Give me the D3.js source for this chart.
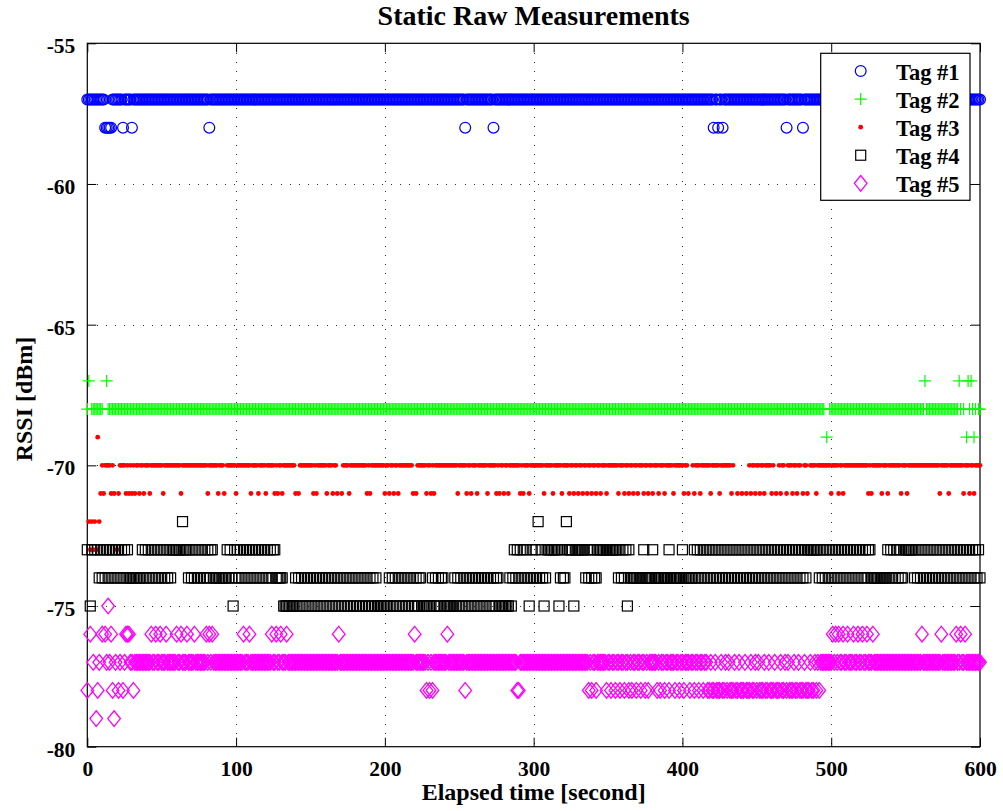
<!DOCTYPE html>
<html>
<head>
<meta charset="utf-8">
<script src="https://cdn.jsdelivr.net/npm/d3@7"></script>
<style>
  body { margin: 0; background: #fff; }
  svg { display: block; }
  text { font-family: "Liberation Serif", "Times New Roman", serif; font-weight: bold; fill: #000; }
</style>
</head>
<body>
<svg id="chart" width="1003" height="811"></svg>
<script>
// ---- data ----------------------------------------------------------------
const xTicks = [0, 100, 200, 300, 400, 500, 600];
const yTicks = [-80, -75, -70, -65, -60, -55];
const tagNames = ["Tag #1", "Tag #2", "Tag #3", "Tag #4", "Tag #5"];
// strongest RSSI level seen for each tag (dBm)
const tagTops = [-57, -67, -69, -72, -75];

// One character per second, t = 0 ... 600 s (groups of ten, one row per 100 s).
// A digit is the drop in dB below the tag's top level; "." means no reading.
const tag1Readings = [
  "0000000000 0011111000 0000100000 1000000000 0000000000 0000000000 0000000000 0000000000 0010000000 0000000000",
  "0000000000 0000000000 0000000000 0000000000 0000000000 0000000000 0000000000 0000000000 0000000000 0000000000",
  "0000000000 0000000000 0000000000 0000000000 0000000000 0000100000 0000000000 0001000000 0000000000 0000000000",
  "0000000000 0000000000 0000000000 0000000000 0000000000 0000000000 0000000000 0000000000 0000000000 0000000000",
  "0000000000 0000000000 0100100100 0000000000 0000000000 0000000000 0000000000 1000000000 0100000000 0000000000",
  "0000000000 0000000000 0000000000 0000000000 0000000000 0000000000 0000000000 0000000000 0000000000 0000000000",
  "0"
];
const tag2Readings = [
  "10.1111111 1..0111111 1111111111 1111111111 1111111111 1111111111 1111111111 1111111111 1111111111 1111111111",
  "1111111111 1111111111 1111111111 1111111111 1111111111 1111111111 1111111111 1111111111 1111111111 1111111111",
  "1111111111 1111111111 1111111111 1111111111 1111111111 1111111111 1111111111 1111111111 1111111111 1111111111",
  "1111111111 1111111111 1111111111 1111111111 1111111111 1111111111 1111111111 1111111111 1111111111 1111111111",
  "1111111111 1111111111 1111111111 1111111111 1111111111 1111111111 1111111111 1111111111 1111111111 111111.2.1",
  "1111111111 1111111111 1111111111 1111111111 1111111111 1111111111 1110111111 1111111111 11111101.1 .2010121.1",
  "1"
];
const tag3Readings = [
  ".343434032 121111212. 4211112121 2121121121 1121111111 1211111111 1112111111 1111111111 1211111121 112.111111",
  "2111111111 2111121111 2111112121 1211111111 2.21111111 1121211111 121112112. .211112111 1111111121 2111111111",
  "2112112112 1111111112 .211111121 1212111111 1111111112 1111121121 1121111112 1111121211 2112111111 1212111211",
  "1111111211 1112111112 1111211211 2112112112 1121121112 1111111211 1211211211 2111211211 2111211121 1111211111",
  "12112..121 1121111112 1111121111 11121..2.. 2..2.12112 1121121111 21.2.1211. 2111211211 .2112.1111 2111111111",
  "2111121121 1111111111 1111121211 1111211121 1111111211 1211111111 1111111111 1112111112 1111111112 1112112111",
  "1"
];
const tag4Readings = [
  "1.31.1.121 2121212121 2121212122 2222222121 2121212121 2121212111 1111011121 2121212121 2121122222 2222121231",
  "2121212121 2121212121 2121211222 2233333333 2323232323 2323232323 2323232323 2323232323 2323232323 2323233333",
  "3332323232 3232323232 3232233333 3323232322 3333333232 3232323232 3232323232 3232322333 3333232121 2121212321",
  "2120212321 1111111321 2201111311 1111121212 1221111111 1111111212 1213122222 2222122222 1222222222 2122222222",
  "1222222212 1212121212 1212121212 1212121212 1212121212 1212121212 1212121212 1212121212 1212111111 1121212121",
  "2121212121 2121212121 2121211222 2222222212 1212121221 1111112121 2121212121 2121212121 2121212121 2121212121",
  "2"
];
const tag5Readings = [
  "3.1.2.432. 1.12021342 .32.321112 2322222222 2221221221 2221222222 1221222122 2212222222 1212122222 2222222222",
  "2222212221 2222222222 2222122122 1222122222 2222222222 2222222222 2222222221 2222222222 2222222222 2222222222",
  "2222222222 2222222222 1222222232 3232222222 2212222222 2222322222 2222222222 2222222222 2222222223 3222222222",
  "2222222222 2222222222 2222222222 2222222323 2232222223 2232232232 2322323223 2232232322 2223232232 2322232232",
  "2322232232 2322322332 3323332332 3233323323 3323332332 3233323323 3323332332 3233323323 3323332332 3232222222",
  "2121212212 2122212212 2122122212 2222222222 2222222222 2222222222 2122222222 2222122222 2222122122 1222222222",
  "2"
];
const tagReadings = [tag1Readings, tag2Readings, tag3Readings, tag4Readings, tag5Readings];

// ---- decoding ------------------------------------------------------------
function decode(rows, top) {
  const chars = rows.join("").replace(/\s+/g, "").split("");
  const pts = [];
  chars.forEach((c, t) => { if (c !== ".") pts.push({ t: t, v: top - Number(c) }); });
  return pts;
}
const series = tagReadings.map((rows, i) => decode(rows, tagTops[i]));

// ---- layout --------------------------------------------------------------
const svg = d3.select("#chart");
const x = d3.scaleLinear().domain([0, 600]).range([87.3, 980]);
const y = d3.scaleLinear().domain([-80, -55]).range([746.7, 43.3]);

// marker styles per tag
const markers = [
  { draw: g => g.append("circle").attr("r", 5.4).attr("fill", "none").attr("stroke", "#0000ff").attr("stroke-width", 1.25) },
  { draw: g => g.append("path").attr("d", "M-6,0H6M0,-6V6").attr("fill", "none").attr("stroke", "#00ff00").attr("stroke-width", 1.2) },
  { draw: g => g.append("circle").attr("r", 2.4).attr("fill", "#ff0000") },
  { draw: g => g.append("rect").attr("x", -5).attr("y", -5).attr("width", 10).attr("height", 10).attr("fill", "none").attr("stroke", "#000").attr("stroke-width", 1.2) },
  { draw: g => g.append("path").attr("d", "M0,-7.8L6.3,0L0,7.8L-6.3,0Z").attr("fill", "none").attr("stroke", "#ff00ff").attr("stroke-width", 1.3) }
];

// ---- grid ----------------------------------------------------------------
const grid = svg.append("g").attr("stroke", "#333").attr("stroke-width", 1)
  .attr("stroke-dasharray", "1,8.2").attr("shape-rendering", "crispEdges");
grid.selectAll("line.gx").data(xTicks.slice(1, -1)).join("line")
  .attr("x1", d => Math.round(x(d)) + 0.5).attr("x2", d => Math.round(x(d)) + 0.5)
  .attr("y1", y(-55)).attr("y2", y(-80));
grid.selectAll("line.gy").data(yTicks.slice(1, -1)).join("line")
  .attr("y1", d => Math.round(y(d)) + 0.5).attr("y2", d => Math.round(y(d)) + 0.5)
  .attr("x1", x(0)).attr("x2", x(600));

// ---- axes (ticks pointing inward) -----------------------------------------
const fmt = d => String(d);
const gxB = svg.append("g").attr("transform", `translate(0,${y(-80)})`)
  .call(d3.axisBottom(x).tickValues(xTicks).tickSize(-9).tickSizeOuter(0).tickFormat(fmt));
const gxT = svg.append("g").attr("transform", `translate(0,${y(-55)})`)
  .call(d3.axisTop(x).tickValues(xTicks).tickSize(-9).tickSizeOuter(0).tickFormat(""));
const gyL = svg.append("g").attr("transform", `translate(${x(0)},0)`)
  .call(d3.axisLeft(y).tickValues(yTicks).tickSize(-9).tickSizeOuter(0).tickFormat(fmt));
const gyR = svg.append("g").attr("transform", `translate(${x(600)},0)`)
  .call(d3.axisRight(y).tickValues(yTicks).tickSize(-9).tickSizeOuter(0).tickFormat(""));
[gxB, gxT, gyL, gyR].forEach(g => {
  g.select(".domain").remove();
  g.attr("font-family", null).attr("font-size", null);
  g.selectAll(".tick line").attr("stroke", "#000").attr("stroke-width", 1);
});
gxB.selectAll(".tick text").attr("y", 29.3).attr("dy", null)
  .attr("font-size", 21.5).attr("fill", "#000");
gyL.selectAll(".tick text").attr("x", -12).attr("dy", null).attr("y", 9.6)
  .attr("font-size", 21.5).attr("fill", "#000");

// axes box
svg.append("rect")
  .attr("x", x(0)).attr("y", y(-55))
  .attr("width", x(600) - x(0)).attr("height", y(-80) - y(-55))
  .attr("fill", "none").attr("stroke", "#000").attr("stroke-width", 1.2);

// ---- measurements --------------------------------------------------------
series.forEach((pts, i) => {
  const g = svg.append("g").attr("class", "tag" + (i + 1));
  g.selectAll("g").data(pts).join("g")
    .attr("transform", d => `translate(${x(d.t)},${y(d.v)})`)
    .each(function () { markers[i].draw(d3.select(this)); });
});

// ---- titles --------------------------------------------------------------
svg.append("text").attr("x", (x(0) + x(600)) / 2).attr("y", 25)
  .attr("text-anchor", "middle").attr("font-size", 28).text("Static Raw Measurements");
svg.append("text").attr("x", (x(0) + x(600)) / 2).attr("y", 800)
  .attr("text-anchor", "middle").attr("font-size", 24).text("Elapsed time [second]");
svg.append("text").attr("transform", "translate(31.7,399) rotate(-90)")
  .attr("text-anchor", "middle").attr("font-size", 24).text("RSSI [dBm]");

// ---- legend --------------------------------------------------------------
const legend = svg.append("g");
legend.append("rect").attr("x", 820.7).attr("y", 53.3).attr("width", 149.3).attr("height", 147)
  .attr("fill", "#fff").attr("stroke", "#000").attr("stroke-width", 1.2);
const rowY = d3.scalePoint().domain(tagNames).range([71, 183.3]);
tagNames.forEach((name, i) => {
  const m = legend.append("g").attr("transform", `translate(860.7,${rowY(name)})`);
  markers[i].draw(m);
  legend.append("text").attr("x", 896).attr("y", rowY(name) + 8.5)
    .attr("font-size", 22.5).text(name);
});
</script>
</body>
</html>
